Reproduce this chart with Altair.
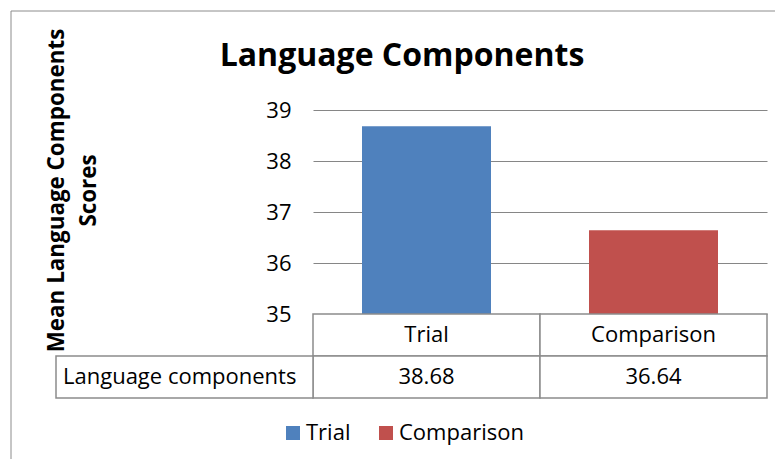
import altair as alt
import pandas as pd

groups = ["Trial", "Comparison"]
scores = [38.68, 36.64]
bar_colors = ["#4F81BD", "#C0504D"]
y_ticks = [35, 36, 37, 38, 39]
row_label = "Language components"
chart_title = "Language Components"
y_title = ["Mean Language Components", "Scores"]

FONT = "Open Sans"
GRID = "#868686"
BORDER = "#8c8c8c"

df = pd.DataFrame({"group": groups, "score": scores})
df["text"] = [f"{v:.2f}" for v in scores]

x_scale = alt.Scale(domain=groups, paddingInner=0, paddingOuter=0)

bars = alt.Chart(df).mark_bar(size=129).encode(
    x=alt.X("group:N", sort=groups, scale=x_scale, axis=None),
    y=alt.Y(
        "score:Q",
        scale=alt.Scale(domain=[35, 39], nice=False, zero=False),
        axis=alt.Axis(
            values=y_ticks, grid=True, gridColor=GRID, gridWidth=1.2,
            domain=False, ticks=False, labelPadding=22,
            labelFont=FONT, labelFontSize=22, labelColor="black",
            title=y_title, titleFont=FONT, titleFontSize=22.4, titleFontWeight="bold",
            titleColor="black", titleX=-245, titleY=80, titleAngle=-90,
            titleAlign="center", titleBaseline="bottom", titleLineHeight=32,
        ),
    ),
    y2=alt.datum(35),
    color=alt.Color(
        "group:N",
        scale=alt.Scale(domain=groups, range=bar_colors),
        legend=alt.Legend(
            title=None, orient="none", direction="horizontal",
            legendX=-31, legendY=312, padding=0,
            symbolType="square", symbolSize=196, symbolStrokeWidth=0,
            labelFont=FONT, labelFontSize=22, labelColor="black",
            labelOffset=2, columnPadding=24,
        ),
    ),
)

frame_src = pd.DataFrame({"k": [0]})
frame_top = alt.Chart(frame_src).mark_rule(color=BORDER, strokeWidth=1).encode(
    x=alt.value(-302), x2=alt.value(462), y=alt.value(-99)
)
frame_left = alt.Chart(frame_src).mark_rule(color=BORDER, strokeWidth=1).encode(
    x=alt.value(-302), y=alt.value(-99), y2=alt.value(349)
)

top = alt.layer(frame_top, frame_left, bars).properties(
    width=454, height=204,
    title=alt.Title(chart_title, font=FONT, fontSize=32, fontWeight="bold",
                    color="black", anchor="middle", dx=-138, offset=0, dy=62),
)

rows = ["head", "val"]
tbl = pd.DataFrame({
    "group": groups + groups,
    "row": ["head"] * len(groups) + ["val"] * len(groups),
    "text": groups + list(df["text"]),
})
lbl = pd.DataFrame({"row": ["val"], "text": [row_label]})

tx = alt.X("group:N", sort=groups, scale=x_scale, axis=None)
ty = alt.Y("row:N", sort=rows, scale=alt.Scale(domain=rows, paddingInner=0, paddingOuter=0), axis=None)

cells = alt.Chart(tbl).mark_rect(fill="white", stroke=BORDER, strokeWidth=1.5).encode(x=tx, y=ty)
cell_text = alt.Chart(tbl).mark_text(font=FONT, fontSize=22, color="black").encode(x=tx, y=ty, text="text:N")
lbl_cell = alt.Chart(lbl).mark_rect(fill="white", stroke=BORDER, strokeWidth=1.5).encode(
    x=alt.value(-257), x2=alt.value(0), y=ty
)
lbl_text = alt.Chart(lbl).mark_text(font=FONT, fontSize=22, color="black", align="left").encode(
    x=alt.value(-250), y=ty, text="text:N"
)

table = alt.layer(cells, lbl_cell, cell_text, lbl_text).properties(width=454, height=84)

chart = alt.vconcat(top, table, spacing=0, bounds="flush").configure_view(
    stroke=None
).properties(padding={"left": 2, "top": 2, "right": 0, "bottom": 0})

chart.save("out.html", embed_options={"renderer": "svg", "actions": False})
